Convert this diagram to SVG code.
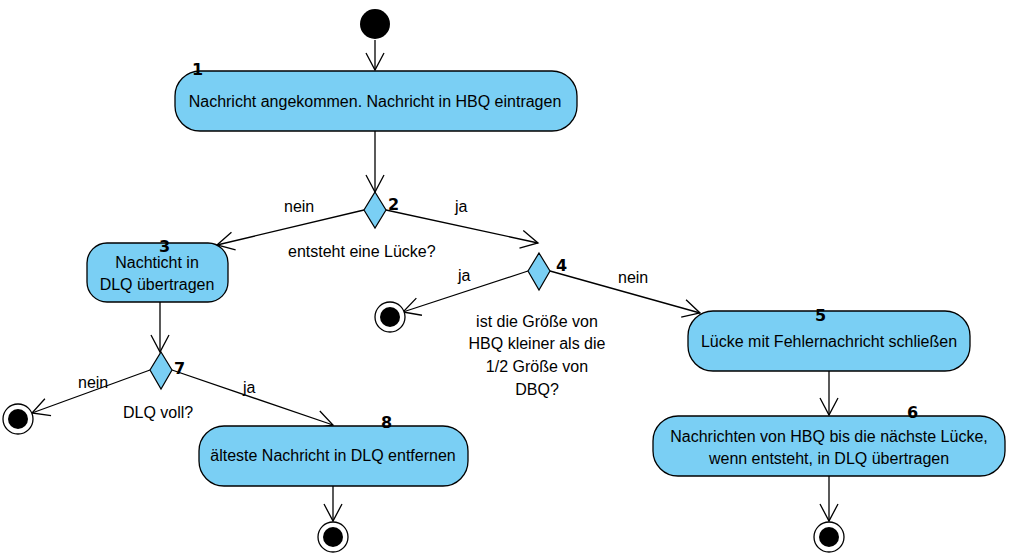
<svg xmlns="http://www.w3.org/2000/svg" width="1010" height="557" viewBox="0 0 1010 557">
<style>
.act{fill:#7ACFF4;stroke:#000;stroke-width:1.3}
.dec{fill:#7ACFF4;stroke:#000;stroke-width:1.2}
.t{font-family:"Liberation Sans",Arial,sans-serif;font-size:16px;fill:#000}
.c{text-anchor:middle}
.n{font-family:"DejaVu Sans",sans-serif;font-size:16px;font-weight:bold;fill:#000}
.e{fill:none;stroke:#000;stroke-width:1.3;marker-end:url(#arr)}
.fo{fill:#fff;stroke:#000;stroke-width:1.3}
</style>
<defs>
<marker id="arr" markerUnits="userSpaceOnUse" markerWidth="20" markerHeight="20" viewBox="-18 -10 20 20" refX="0" refY="0" orient="auto">
<path d="M-17,-9 L0,0 L-17,9" fill="none" stroke="#000" stroke-width="1.3"/>
</marker>
</defs>
<rect width="1010" height="557" fill="#fff"/>
<g id="connectors">
<line class="e" x1="375" y1="40" x2="375" y2="70"/>
<line class="e" x1="375" y1="131" x2="375" y2="192"/>
<line class="e" x1="364" y1="210" x2="217" y2="245"/>
<line class="e" x1="386" y1="210" x2="538" y2="243"/>
<line class="e" x1="160" y1="302" x2="160" y2="352"/>
<line class="e" x1="150" y1="370" x2="32" y2="413"/>
<line class="e" x1="172" y1="370" x2="333" y2="425"/>
<line class="e" x1="333" y1="486" x2="333" y2="521"/>
<line class="e" x1="528" y1="271" x2="403" y2="312"/>
<line class="e" x1="550" y1="271" x2="700" y2="313"/>
<line class="e" x1="829" y1="371" x2="829" y2="415"/>
<line class="e" x1="829" y1="476" x2="829" y2="521"/>
<text class="t" x="284" y="212">nein</text>
<text class="t" x="455" y="212">ja</text>
<text class="t" x="458" y="281">ja</text>
<text class="t" x="618" y="283">nein</text>
<text class="t" x="78" y="388">nein</text>
<text class="t" x="243" y="393">ja</text>
</g>
<g id="start">
<circle cx="375" cy="24" r="15" fill="#000"/>
</g>
<g id="node1">
<rect class="act" x="175" y="71" width="402" height="60" rx="25"/>
<text class="t c" x="375" y="107">Nachricht angekommen. Nachricht in HBQ eintragen</text>
<text class="n" x="192" y="75">1</text>
</g>
<g id="decision2">
<polygon class="dec" points="375,192 386,210 375,228 364,210"/>
<text class="n" x="388" y="210">2</text>
<text class="t" x="288" y="257">entsteht eine Lücke?</text>
</g>
<g id="node3">
<rect class="act" x="87" y="243" width="141" height="59" rx="20"/>
<text class="t c" x="157" y="268">Nachticht in</text>
<text class="t c" x="157" y="290">DLQ übertragen</text>
<text class="n" x="159" y="252">3</text>
</g>
<g id="decision4">
<polygon class="dec" points="539,253 550,271 539,290 528,271"/>
<text class="n" x="556" y="271">4</text>
<text class="t c" x="537" y="327">ist die Größe von</text>
<text class="t c" x="537" y="349">HBQ kleiner als die</text>
<text class="t c" x="537" y="372">1/2 Größe von</text>
<text class="t c" x="537" y="395">DBQ?</text>
</g>
<g id="end4">
<circle class="fo" cx="390" cy="317" r="15"/>
<circle cx="390" cy="317" r="10" fill="#000"/>
</g>
<g id="node5">
<rect class="act" x="688" y="311" width="282" height="60" rx="25"/>
<text class="t c" x="829" y="347">Lücke mit Fehlernachricht schließen</text>
<text class="n" x="815" y="321">5</text>
</g>
<g id="node6">
<rect class="act" x="653" y="416" width="352" height="60" rx="25"/>
<text class="t c" x="829" y="442">Nachrichten von HBQ bis die nächste Lücke,</text>
<text class="t c" x="829" y="464">wenn entsteht, in DLQ übertragen</text>
<text class="n" x="907" y="418">6</text>
</g>
<g id="end6">
<circle class="fo" cx="829" cy="537" r="15"/>
<circle cx="829" cy="537" r="10" fill="#000"/>
</g>
<g id="decision7">
<polygon class="dec" points="161,352 172,370 161,389 150,370"/>
<text class="n" x="174" y="374">7</text>
<text class="t" x="123" y="418">DLQ voll?</text>
</g>
<g id="end7">
<circle class="fo" cx="18" cy="419" r="15"/>
<circle cx="18" cy="419" r="10" fill="#000"/>
</g>
<g id="node8">
<rect class="act" x="199" y="426" width="269" height="60" rx="25"/>
<text class="t c" x="333" y="461">älteste Nachricht in DLQ entfernen</text>
<text class="n" x="381" y="428">8</text>
</g>
<g id="end8">
<circle class="fo" cx="333" cy="537" r="15"/>
<circle cx="333" cy="537" r="10" fill="#000"/>
</g>
</svg>
